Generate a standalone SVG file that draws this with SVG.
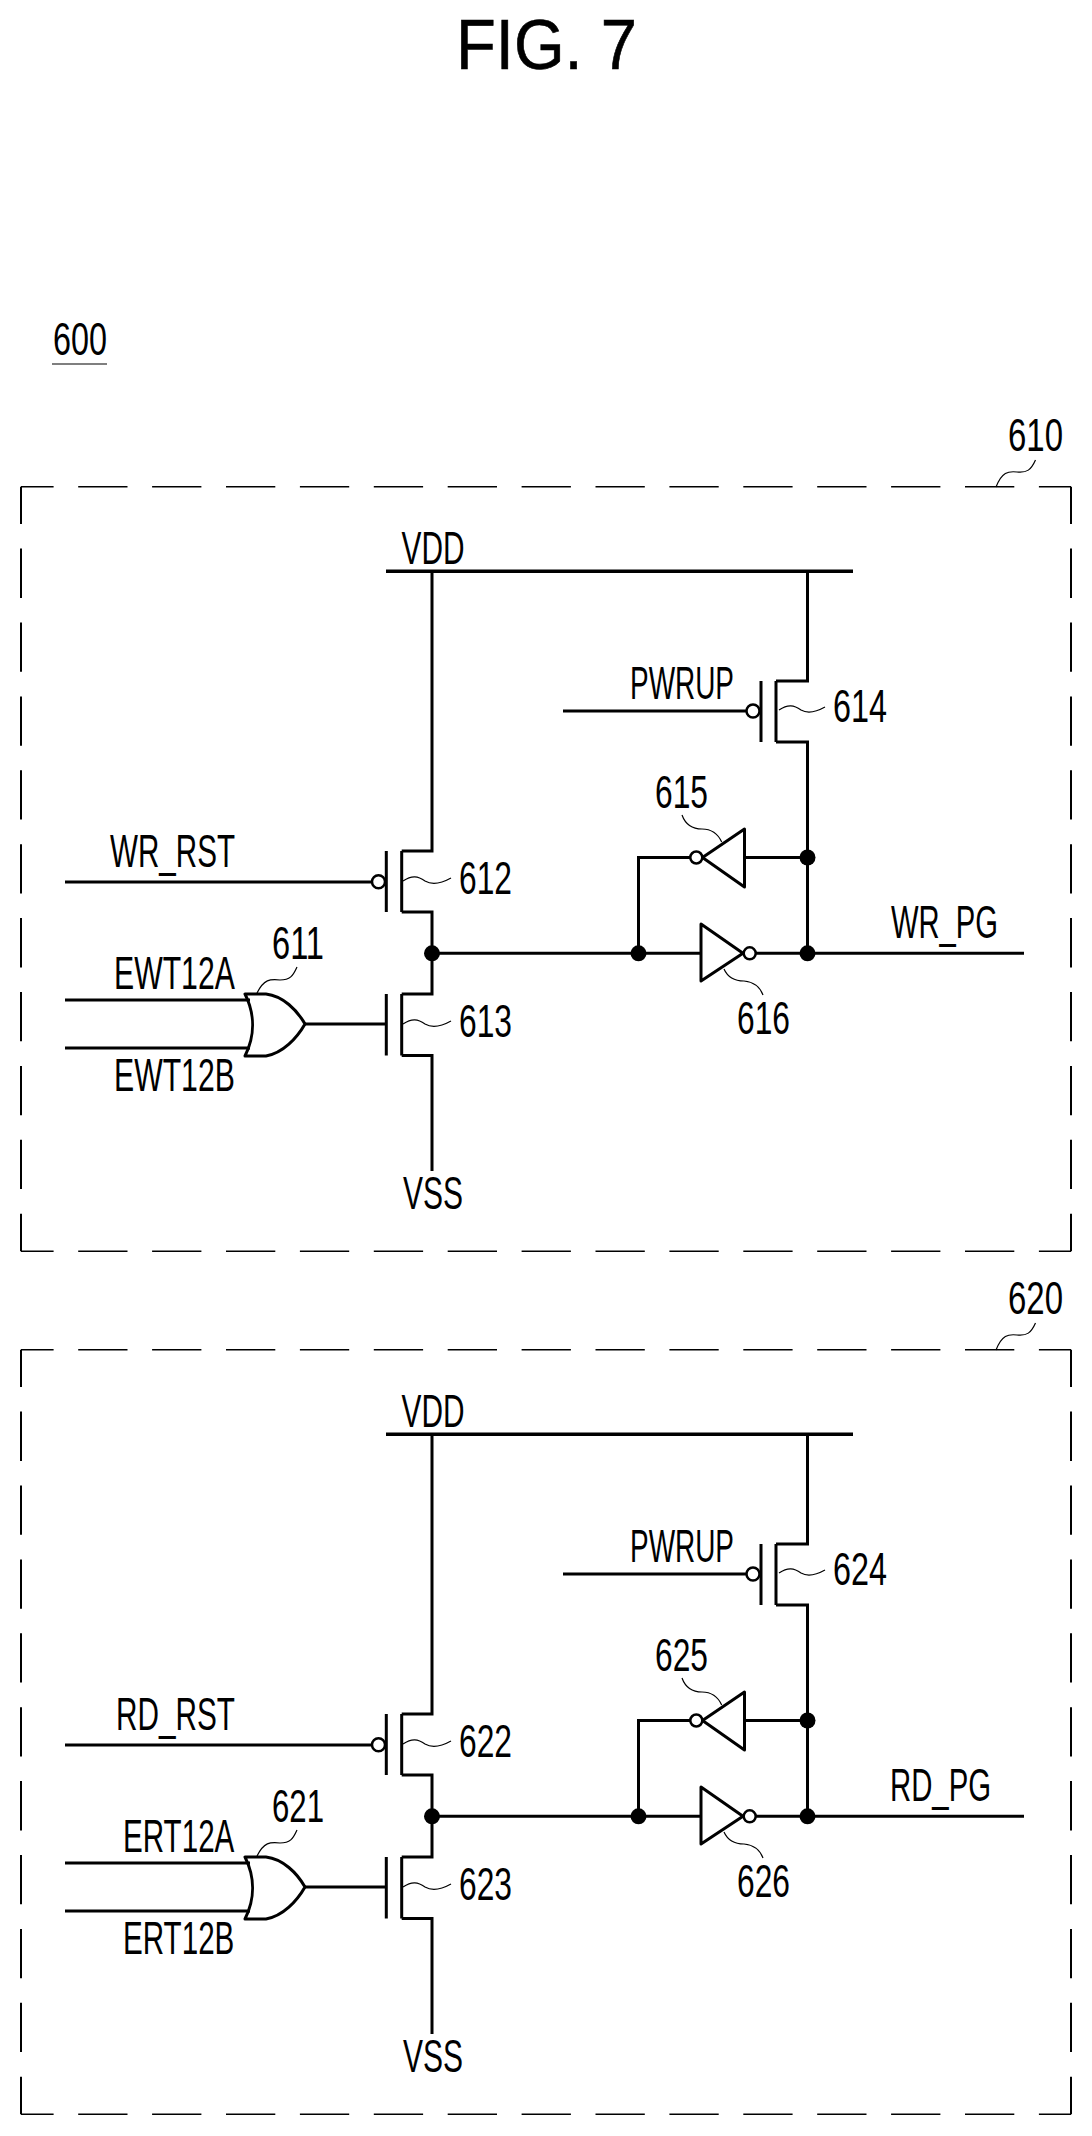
<svg xmlns="http://www.w3.org/2000/svg" width="1092" height="2136" viewBox="0 0 1092 2136">
<style>
text{font-family:"Liberation Sans",Arial,sans-serif;font-size:46px;fill:#000;text-anchor:start}
.w{fill:none;stroke:#000;stroke-width:3}
.g{fill:none;stroke:#000;stroke-width:3;stroke-linejoin:round}
.l{fill:none;stroke:#000;stroke-width:1.2}
.d{fill:none;stroke:#000;stroke-width:1.6;stroke-dasharray:49.3 24.6;stroke-dashoffset:16.7}
.dv{fill:none;stroke:#000;stroke-width:2;stroke-dasharray:49.3 24.6;stroke-dashoffset:12}
.b{fill:#fff;stroke:#000;stroke-width:2.5}
.j{fill:#000}
</style>
<rect width="1092" height="2136" fill="#fff"/>
<text id="title" x="456" y="69" textLength="181" lengthAdjust="spacingAndGlyphs" style="font-size:70px;stroke:#000;stroke-width:.6">FIG. 7</text>
<g id="ref-600"><text x="53" y="355" textLength="54" lengthAdjust="spacingAndGlyphs">600</text><path class="l" d="M52 364H107"/></g>

<g id="block-610">
<g id="frame-610"><path class="d" d="M21 486.700H1071"/><path class="d" d="M21 1251.300H1071"/><path class="dv" d="M21 486.700V1251.300"/><path class="dv" d="M1071 486.700V1251.300"/></g>
<g id="label-610"><text x="1008" y="451" textLength="55" lengthAdjust="spacingAndGlyphs">610</text><path class="l" d="M996 487C1002 472 1008 471 1017 472C1027 473 1031 470 1035.500 460"/></g>
<g id="connectors-610">
<path class="w" style="stroke-width:3.500" d="M386 571.300H853"/>
<path class="w" d="M432 571V851H401.700M401.700 912H432V994H401.700M401.700 1055.500H432V1171"/>
<path class="w" d="M807.500 571V681H776M776 742H807.500V953.300"/>
<path class="w" d="M65 882H372M563 711H746"/>
<path class="w" d="M65 1000H250M65 1048H250M305 1024H386"/>
<path class="w" d="M432 953.300H701M750 953.300H1024"/>
<path class="w" d="M744.500 857.500H807.500M690 857.500H638.500V953.300"/>
<circle class="j" cx="432" cy="953.300" r="8"/><circle class="j" cx="638.500" cy="953.300" r="8"/><circle class="j" cx="807.500" cy="953.300" r="8"/><circle class="j" cx="807.500" cy="857.500" r="8"/>
</g>
<g id="vdd-610"><text x="401.500" y="564" textLength="63" lengthAdjust="spacingAndGlyphs">VDD</text></g>
<g id="vss-610"><text x="403" y="1209" textLength="60" lengthAdjust="spacingAndGlyphs">VSS</text></g>
<g id="gate-611"><path class="g" d="M245 994H266C283 996 297 1010 305 1024C297 1038 283 1053 266 1056H245C255 1036 255 1014 245 994Z"/><path class="l" d="M257 993C264 979 270 979 280 980C290 980 293 976 297 967"/><text x="272" y="959" textLength="52" lengthAdjust="spacingAndGlyphs">611</text></g>
<g id="input-611"><text transform="translate(114 989) scale(.657 1)">EWT12A</text><text transform="translate(114 1091) scale(.657 1)">EWT12B</text></g>
<g id="pmos-612"><path class="w" d="M386.300 851V912M401.700 851V912"/><circle class="b" cx="378.500" cy="881.700" r="6.500"/><path class="l" d="M403 881C412 875 418 876 425 881C432 885 442 883 451 878"/><text x="459" y="893.500" textLength="53" lengthAdjust="spacingAndGlyphs">612</text><text x="110" y="867" textLength="125" lengthAdjust="spacingAndGlyphs">WR_RST</text></g>
<g id="nmos-613"><path class="w" d="M386.300 994V1055.500M401.700 994V1055.500"/><path class="l" d="M403 1024C412 1018 418 1019 425 1024C432 1028 442 1026 451 1021"/><text x="459" y="1036.500" textLength="53" lengthAdjust="spacingAndGlyphs">613</text></g>
<g id="pmos-614"><path class="w" d="M761 681V742M776 681V742"/><circle class="b" cx="753" cy="711" r="6.500"/><path class="l" d="M779 710C788 704 794 705 801 710C808 714 816 712 825 707"/><text x="833" y="722" textLength="54" lengthAdjust="spacingAndGlyphs">614</text><text x="630" y="699" textLength="104" lengthAdjust="spacingAndGlyphs">PWRUP</text></g>
<g id="inv-615"><path class="g" d="M744.500 829V887L702.500 857.500Z"/><circle class="b" cx="696.300" cy="857.500" r="6"/><path class="l" d="M682 815C686 826 693 829 702 829C712 829 718 834 721.700 842"/><text x="655" y="808" textLength="53" lengthAdjust="spacingAndGlyphs">615</text></g>
<g id="inv-616"><path class="g" d="M701 924V981L743 953.300Z"/><circle class="b" cx="749.700" cy="953.300" r="6"/><path class="l" d="M724 969C728 978 735 981 744 981C754 982 760 987 763 995"/><text x="737" y="1034" textLength="53" lengthAdjust="spacingAndGlyphs">616</text></g>
<g id="out-610"><text x="891" y="938" textLength="107" lengthAdjust="spacingAndGlyphs">WR_PG</text></g>
</g>

<g id="block-620" transform="translate(0 863)">
<g id="frame-620"><path class="d" d="M21 486.700H1071"/><path class="d" d="M21 1251.300H1071"/><path class="dv" d="M21 486.700V1251.300"/><path class="dv" d="M1071 486.700V1251.300"/></g>
<g id="label-620"><text x="1008" y="451" textLength="55" lengthAdjust="spacingAndGlyphs">620</text><path class="l" d="M996 487C1002 472 1008 471 1017 472C1027 473 1031 470 1035.500 460"/></g>
<g id="connectors-620">
<path class="w" style="stroke-width:3.500" d="M386 571.300H853"/>
<path class="w" d="M432 571V851H401.700M401.700 912H432V994H401.700M401.700 1055.500H432V1171"/>
<path class="w" d="M807.500 571V681H776M776 742H807.500V953.300"/>
<path class="w" d="M65 882H372M563 711H746"/>
<path class="w" d="M65 1000H250M65 1048H250M305 1024H386"/>
<path class="w" d="M432 953.300H701M750 953.300H1024"/>
<path class="w" d="M744.500 857.500H807.500M690 857.500H638.500V953.300"/>
<circle class="j" cx="432" cy="953.300" r="8"/><circle class="j" cx="638.500" cy="953.300" r="8"/><circle class="j" cx="807.500" cy="953.300" r="8"/><circle class="j" cx="807.500" cy="857.500" r="8"/>
</g>
<g id="vdd-620"><text x="401.500" y="564" textLength="63" lengthAdjust="spacingAndGlyphs">VDD</text></g>
<g id="vss-620"><text x="403" y="1209" textLength="60" lengthAdjust="spacingAndGlyphs">VSS</text></g>
<g id="gate-621"><path class="g" d="M245 994H266C283 996 297 1010 305 1024C297 1038 283 1053 266 1056H245C255 1036 255 1014 245 994Z"/><path class="l" d="M257 993C264 979 270 979 280 980C290 980 293 976 297 967"/><text x="272" y="959" textLength="52" lengthAdjust="spacingAndGlyphs">621</text></g>
<g id="input-621"><text transform="translate(123 989) scale(.644 1)">ERT12A</text><text transform="translate(123 1091) scale(.644 1)">ERT12B</text></g>
<g id="pmos-622"><path class="w" d="M386.300 851V912M401.700 851V912"/><circle class="b" cx="378.500" cy="881.700" r="6.500"/><path class="l" d="M403 881C412 875 418 876 425 881C432 885 442 883 451 878"/><text x="459" y="893.500" textLength="53" lengthAdjust="spacingAndGlyphs">622</text><text x="116" y="867" textLength="119" lengthAdjust="spacingAndGlyphs">RD_RST</text></g>
<g id="nmos-623"><path class="w" d="M386.300 994V1055.500M401.700 994V1055.500"/><path class="l" d="M403 1024C412 1018 418 1019 425 1024C432 1028 442 1026 451 1021"/><text x="459" y="1036.500" textLength="53" lengthAdjust="spacingAndGlyphs">623</text></g>
<g id="pmos-624"><path class="w" d="M761 681V742M776 681V742"/><circle class="b" cx="753" cy="711" r="6.500"/><path class="l" d="M779 710C788 704 794 705 801 710C808 714 816 712 825 707"/><text x="833" y="722" textLength="54" lengthAdjust="spacingAndGlyphs">624</text><text x="630" y="699" textLength="104" lengthAdjust="spacingAndGlyphs">PWRUP</text></g>
<g id="inv-625"><path class="g" d="M744.500 829V887L702.500 857.500Z"/><circle class="b" cx="696.300" cy="857.500" r="6"/><path class="l" d="M682 815C686 826 693 829 702 829C712 829 718 834 721.700 842"/><text x="655" y="808" textLength="53" lengthAdjust="spacingAndGlyphs">625</text></g>
<g id="inv-626"><path class="g" d="M701 924V981L743 953.300Z"/><circle class="b" cx="749.700" cy="953.300" r="6"/><path class="l" d="M724 969C728 978 735 981 744 981C754 982 760 987 763 995"/><text x="737" y="1034" textLength="53" lengthAdjust="spacingAndGlyphs">626</text></g>
<g id="out-620"><text x="890" y="938" textLength="101" lengthAdjust="spacingAndGlyphs">RD_PG</text></g>
</g>
</svg>
